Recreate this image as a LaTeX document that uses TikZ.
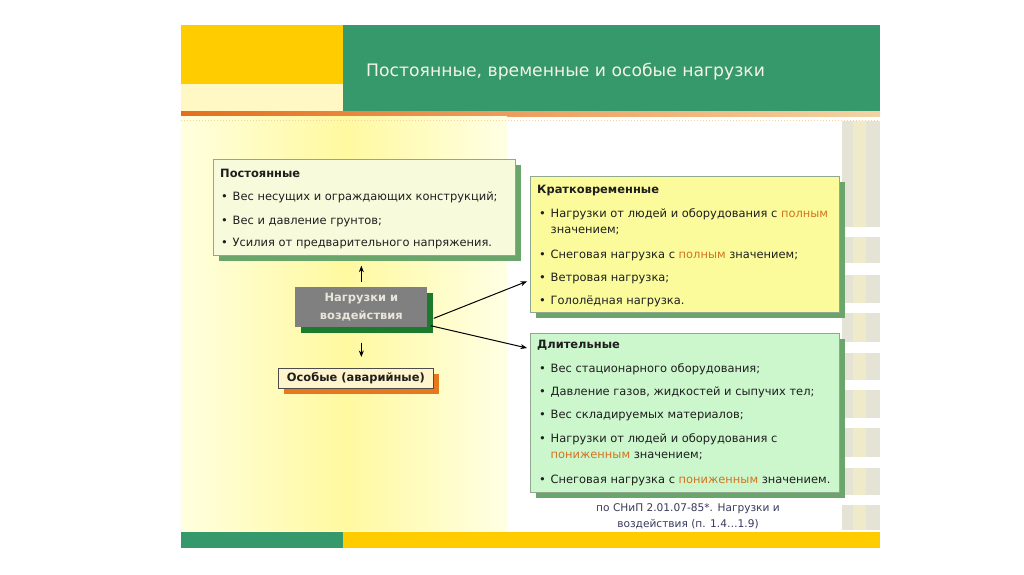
\documentclass[tikz,border=0pt]{standalone}
\usepackage{fontspec}
\setmainfont{DejaVu Sans}
\usetikzlibrary{shadows,arrows.meta}
\definecolor{gold}{HTML}{FFCC00}
\definecolor{tgreen}{HTML}{36996B}
\definecolor{paley}{HTML}{FFF8C4}
\definecolor{lineor}{HTML}{E56E1E}
\definecolor{linelt}{HTML}{F3D3A6}
\definecolor{bgL}{HTML}{FFFFDE}
\definecolor{bgM}{HTML}{FFF9A0}
\definecolor{bgR}{HTML}{FFFFE4}
\definecolor{stripe}{HTML}{E5E2D6}
\definecolor{stripemid}{HTML}{EFEAC9}
\definecolor{boxline}{HTML}{8FA88F}
\definecolor{shgreen}{HTML}{6AA66C}
\definecolor{fillA}{HTML}{F8FADC}
\definecolor{fillB}{HTML}{FBFB9C}
\definecolor{fillC}{HTML}{CCF6CC}
\definecolor{nodegray}{HTML}{808080}
\definecolor{dkgreen}{HTML}{1C7A2C}
\definecolor{nodetext}{HTML}{E8E6DA}
\definecolor{specfill}{HTML}{FFF5CC}
\definecolor{specsh}{HTML}{E6781E}
\definecolor{txtc}{HTML}{1E1E1E}
\definecolor{hl}{HTML}{D2731C}
\definecolor{capc}{HTML}{3A3A5C}
\definecolor{titletxt}{HTML}{F4F4E6}
\tikzset{
  panel/.style={draw=boxline, line width=0.7pt, anchor=north west, inner sep=0pt,
    drop shadow={shadow xshift=6pt, shadow yshift=-6pt, opacity=1, fill=#1}},
  txt/.style={anchor=base west, inner sep=0pt, text=txtc, font=\fontsize{11.45}{13}\selectfont},
  hd/.style={anchor=base west, inner sep=0pt, text=txtc, font=\bfseries\fontsize{11.45}{13}\selectfont},
  arr/.style={-{Stealth[length=6.5pt,width=5pt]}, line width=1pt, black},
}
\newcommand{\bul}{\makebox[11.5pt][l]{•}}
\newcommand{\hlw}[1]{\textcolor{hl}{#1}}
\begin{document}
\begin{tikzpicture}[x=1pt,y=-1pt]
\useasboundingbox (0,0) rectangle (1024,574);
\fill[white] (0,0) rectangle (1024,574);
% header
\fill[gold] (181,25) rectangle (343,84);
\fill[paley] (181,84) rectangle (343,111);
\fill[tgreen] (343,25) rectangle (880,111);
\shade[left color=lineor, right color=linelt] (181,111) rectangle (880,116);
% content background
\shade[left color=bgL, right color=bgM] (181,116) rectangle (345,530);
\shade[left color=bgM, right color=bgR] (345,116) rectangle (507,530);
\draw[linelt, dotted, line width=1pt] (181,120) -- (880,120);
\foreach \a/\b in {121/227,237/263,275/303,313/342,353/380,390/418,428/457,468/495,505/530}{
  \fill[stripe] (842,\a) rectangle (880,\b);
  \fill[stripemid] (853,\a) rectangle (866,\b);
}
% footer
\fill[tgreen] (181,532) rectangle (343,548);
\fill[gold] (343,532) rectangle (880,548);
% title
\node[anchor=base west, inner sep=0pt, text=titletxt, font=\fontsize{17.2}{20}\selectfont] (title) at (366,76) {Постоянные, временные и особые нагрузки};

% box 1
\node[panel=shgreen, fill=fillA, minimum width=302pt, minimum height=96pt] (b1) at (213,159) {};
\node[hd] (b1h) at (220,177) {Постоянные};
\node[txt] (b1a) at (221,200.5) {\bul Вес несущих и ограждающих конструкций;};
\node[txt] (b1b) at (221,224.5) {\bul Вес и давление грунтов;};
\node[txt] (b1c) at (221,246.5) {\bul Усилия от предварительного напряжения.};

% box 2
\node[panel=shgreen, fill=fillB, minimum width=309pt, minimum height=136pt] (k) at (530,176) {};
\node[hd] (kh) at (537,193) {Кратковременные};
\node[txt] (ka) at (539,217) {\bul Нагрузки от людей и оборудования с \hlw{полным}};
\node[txt] (ka2) at (550.5,233) {значением;};
\node[txt] (kb) at (539,258) {\bul Снеговая нагрузка с \hlw{полным} значением;};
\node[txt] (kc) at (539,281) {\bul Ветровая нагрузка;};
\node[txt] (kd) at (539,304) {\bul Гололёдная нагрузка.};

% box 3
\node[panel=shgreen, fill=fillC, minimum width=309pt, minimum height=159pt] (l) at (530,333) {};
\node[hd] (lh) at (537,348) {Длительные};
\node[txt] (la) at (539,372) {\bul Вес стационарного оборудования;};
\node[txt] (lb) at (539,395) {\bul Давление газов, жидкостей и сыпучих тел;};
\node[txt] (lc) at (539,418) {\bul Вес складируемых материалов;};
\node[txt] (ld) at (539,442) {\bul Нагрузки от людей и оборудования с};
\node[txt] (ld2) at (550.5,458.5) {\hlw{пониженным} значением;};
\node[txt] (le) at (539,483.5) {\bul Снеговая нагрузка с \hlw{пониженным} значением.};

% centre node
\node[panel=dkgreen, draw=none, fill=nodegray, minimum width=132pt, minimum height=40pt,
  align=center, text=nodetext, font=\bfseries\fontsize{11.45}{18}\selectfont] (c) at (295,287) {Нагрузки и\\воздействия};

% special
\node[panel=specsh, draw=black!70, fill=specfill, minimum width=155pt, minimum height=20pt,
  text=txtc, font=\bfseries\fontsize{11.45}{13}\selectfont] (s) at (278,368) {Особые (аварийные)};

% caption
\node[inner sep=0pt, align=center, text=capc, font=\fontsize{10.6}{16}\selectfont] (cap) at (688,516) {по СНиП 2.01.07-85*. Нагрузки и\\воздействия (п. 1.4…1.9)};

% connectors
\draw[arr, shorten <=5pt, shorten >=10pt] (c.north) -- (c.north |- b1.south);
\draw[arr, shorten <=15pt, shorten >=11pt] (c.south) -- (c.south |- s.north);
\draw[arr] ([shift={(6,11)}]c.east) -- ([shift={(-3,37)}]k.west);
\draw[arr] ([shift={(3,-2)}]c.south east) -- ([shift={(-3,15)}]l.north west);
\end{tikzpicture}
\end{document}
